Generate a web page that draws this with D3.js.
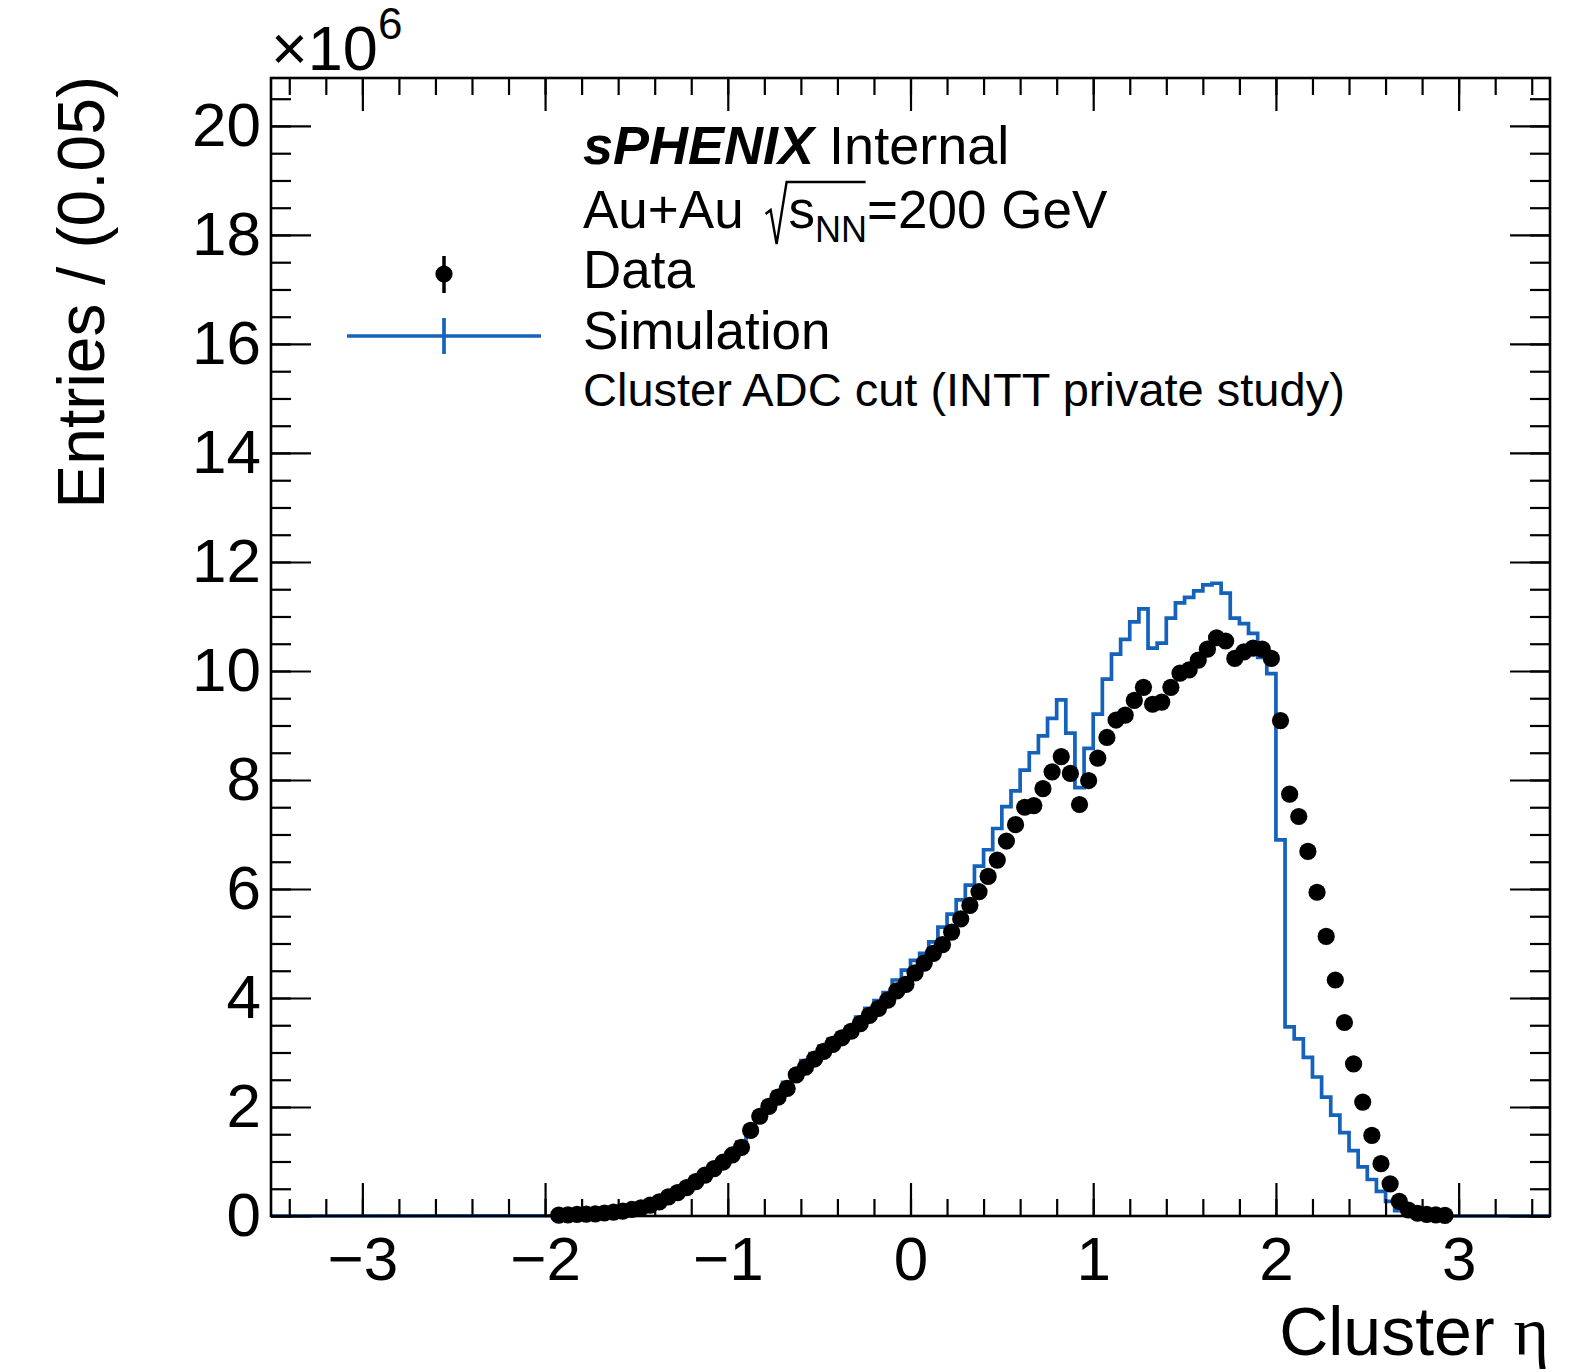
<!DOCTYPE html>
<html>
<head>
<meta charset="utf-8">
<script src="https://cdn.jsdelivr.net/npm/d3@7"></script>
<style>
  html, body { margin: 0; padding: 0; background: #fff; }
  svg { display: block; }
  text { font-family: "Liberation Sans", Arial, Helvetica, sans-serif; fill: #000; }
</style>
</head>
<body>
<svg id="chart" width="1584" height="1372"></svg>
<script>
// Cluster eta distribution, entries per 0.05 bin in units of 1e6
const dataEta = [
  -1.925, -1.875, -1.825, -1.775, -1.725, -1.675, -1.625, -1.575, -1.525, -1.475,
  -1.425, -1.375, -1.325, -1.275, -1.225, -1.175, -1.125, -1.075, -1.025, -0.975,
  -0.925, -0.875, -0.825, -0.775, -0.725, -0.675, -0.625, -0.575, -0.525, -0.475,
  -0.425, -0.375, -0.325, -0.275, -0.225, -0.175, -0.125, -0.075, -0.025, 0.025,
  0.075, 0.125, 0.175, 0.225, 0.275, 0.325, 0.375, 0.425, 0.475, 0.525,
  0.575, 0.625, 0.675, 0.725, 0.775, 0.825, 0.875, 0.925, 0.975, 1.025,
  1.075, 1.125, 1.175, 1.225, 1.275, 1.325, 1.375, 1.425, 1.475, 1.525,
  1.575, 1.625, 1.675, 1.725, 1.775, 1.825, 1.875, 1.925, 1.975, 2.025,
  2.075, 2.125, 2.175, 2.225, 2.275, 2.325, 2.375, 2.425, 2.475, 2.525,
  2.575, 2.625, 2.675, 2.725, 2.775, 2.825, 2.875, 2.925
];
const dataCounts = [
  0.015, 0.02, 0.03, 0.035, 0.04, 0.055, 0.07, 0.09, 0.12, 0.15,
  0.20, 0.26, 0.35, 0.43, 0.52, 0.63, 0.75, 0.87, 0.99, 1.12,
  1.26, 1.57, 1.83, 2.01, 2.18, 2.34, 2.59, 2.73, 2.88, 3.02,
  3.15, 3.27, 3.39, 3.53, 3.68, 3.81, 3.96, 4.13, 4.25, 4.46,
  4.64, 4.82, 4.98, 5.21, 5.45, 5.70, 5.95, 6.23, 6.53, 6.88,
  7.18, 7.50, 7.53, 7.84, 8.15, 8.43, 8.12, 7.55, 7.99, 8.40,
  8.78, 9.10, 9.19, 9.46, 9.70, 9.39, 9.43, 9.70, 9.96, 10.02,
  10.20, 10.40, 10.61, 10.55, 10.23, 10.35, 10.42, 10.40, 10.23, 9.09,
  7.74, 7.33, 6.69, 5.94, 5.13, 4.33, 3.55, 2.79, 2.09, 1.48,
  0.96, 0.59, 0.27, 0.11, 0.05, 0.03, 0.02, 0.01
];

// Simulation histogram, bin centres and contents (1e6); empty bins elsewhere
const simEta = [
  -1.975, -1.925, -1.875, -1.825, -1.775, -1.725, -1.675, -1.625, -1.575, -1.525,
  -1.475, -1.425, -1.375, -1.325, -1.275, -1.225, -1.175, -1.125, -1.075, -1.025,
  -0.975, -0.925, -0.875, -0.825, -0.775, -0.725, -0.675, -0.625, -0.575, -0.525,
  -0.475, -0.425, -0.375, -0.325, -0.275, -0.225, -0.175, -0.125, -0.075, -0.025,
  0.025, 0.075, 0.125, 0.175, 0.225, 0.275, 0.325, 0.375, 0.425, 0.475,
  0.525, 0.575, 0.625, 0.675, 0.725, 0.775, 0.825, 0.875, 0.925, 0.975,
  1.025, 1.075, 1.125, 1.175, 1.225, 1.275, 1.325, 1.375, 1.425, 1.475,
  1.525, 1.575, 1.625, 1.675, 1.725, 1.775, 1.825, 1.875, 1.925, 1.975,
  2.025, 2.075, 2.125, 2.175, 2.225, 2.275, 2.325, 2.375, 2.425, 2.475,
  2.525, 2.575, 2.625, 2.675, 2.725
];
const simCounts = [
  0.005, 0.015, 0.02, 0.025, 0.035, 0.04, 0.05, 0.07, 0.09, 0.12,
  0.16, 0.21, 0.27, 0.35, 0.44, 0.54, 0.65, 0.77, 0.89, 1.01,
  1.15, 1.36, 1.62, 1.88, 2.10, 2.28, 2.45, 2.66, 2.85, 2.98,
  3.12, 3.25, 3.36, 3.47, 3.65, 3.81, 3.95, 4.10, 4.33, 4.51,
  4.69, 4.82, 5.03, 5.30, 5.54, 5.80, 6.07, 6.42, 6.72, 7.11,
  7.51, 7.80, 8.18, 8.50, 8.81, 9.13, 9.47, 8.86, 7.86, 8.58,
  9.21, 9.85, 10.31, 10.58, 10.90, 11.14, 10.42, 10.51, 10.97, 11.25,
  11.35, 11.47, 11.58, 11.61, 11.43, 10.97, 10.87, 10.69, 10.25, 9.95,
  6.90, 3.47, 3.25, 2.91, 2.55, 2.18, 1.85, 1.53, 1.20, 0.90,
  0.67, 0.45, 0.27, 0.10, 0.02
];

const binWidth = 0.05;
const xTickValues = [-3, -2, -1, 0, 1, 2, 3];
const xTickLabels = ["\u22123", "\u22122", "\u22121", "0", "1", "2", "3"];
const yTickValues = [0, 2, 4, 6, 8, 10, 12, 14, 16, 18, 20];
const yTickLabels = ["0", "2", "4", "6", "8", "10", "12", "14", "16", "18", "20"];

const simColor = "#1562ba";

// Frame geometry
const frame = { left: 271, right: 1550, top: 78, bottom: 1216 };
const xDomain = [-3.5, 3.5];
const yDomain = [0, 20.88];

const svg = d3.select("#chart");
const x = d3.scaleLinear().domain(xDomain).range([frame.left, frame.right]);
const y = d3.scaleLinear().domain(yDomain).range([frame.bottom, frame.top]);

// Simulation drawn as a step histogram along the full axis range
const simPts = [[xDomain[0], 0]];
simEta.forEach((c, i) => {
  simPts.push([c - binWidth / 2, simCounts[i]]);
  simPts.push([c + binWidth / 2, simCounts[i]]);
});
simPts.push([simEta[simEta.length - 1] + binWidth / 2, 0]);
simPts.push([xDomain[1], 0]);

const line = d3.line().x(d => x(d[0])).y(d => y(d[1]));
svg.append("path")
  .attr("d", line(simPts))
  .attr("fill", "none")
  .attr("stroke", simColor)
  .attr("stroke-width", 3.7)
  .attr("stroke-linejoin", "miter");

// Axes: ticks point into the frame, mirrored on top and right
const axisStyle = g => {
  g.select(".domain").remove();
  g.selectAll(".tick line").attr("stroke", "#000").attr("stroke-width", 2.2);
};

const xMinor = d3.range(-3.4, 3.41, 0.2).map(v => Math.round(v * 10) / 10);
const yMinor = d3.range(0, 20.51, 0.5);

// bottom
svg.append("g").attr("transform", `translate(0,${frame.bottom})`)
  .call(d3.axisBottom(x).tickValues(xMinor).tickSize(-17).tickFormat(""))
  .call(axisStyle);
const xAx = svg.append("g").attr("transform", `translate(0,${frame.bottom})`)
  .call(d3.axisBottom(x).tickValues(xTickValues).tickSize(-33).tickPadding(20)
    .tickFormat((d, i) => xTickLabels[i]))
  .call(axisStyle);
xAx.selectAll(".tick text")
  .attr("font-size", 62)
  .attr("font-family", "Liberation Sans, Arial, sans-serif")
  .attr("fill", "#000");

// top
svg.append("g").attr("transform", `translate(0,${frame.top})`)
  .call(d3.axisTop(x).tickValues(xMinor).tickSize(-17).tickFormat(""))
  .call(axisStyle);
svg.append("g").attr("transform", `translate(0,${frame.top})`)
  .call(d3.axisTop(x).tickValues(xTickValues).tickSize(-33).tickFormat(""))
  .call(axisStyle);

// left
svg.append("g").attr("transform", `translate(${frame.left},0)`)
  .call(d3.axisLeft(y).tickValues(yMinor).tickSize(-20).tickFormat(""))
  .call(axisStyle);
const yAx = svg.append("g").attr("transform", `translate(${frame.left},0)`)
  .call(d3.axisLeft(y).tickValues(yTickValues).tickSize(-40).tickPadding(10)
    .tickFormat((d, i) => yTickLabels[i]))
  .call(axisStyle);
yAx.selectAll(".tick text")
  .attr("font-size", 62)
  .attr("font-family", "Liberation Sans, Arial, sans-serif")
  .attr("fill", "#000");

// right
svg.append("g").attr("transform", `translate(${frame.right},0)`)
  .call(d3.axisRight(y).tickValues(yMinor).tickSize(-20).tickFormat(""))
  .call(axisStyle);
svg.append("g").attr("transform", `translate(${frame.right},0)`)
  .call(d3.axisRight(y).tickValues(yTickValues).tickSize(-40).tickFormat(""))
  .call(axisStyle);

// frame
svg.append("rect")
  .attr("x", frame.left).attr("y", frame.top)
  .attr("width", frame.right - frame.left).attr("height", frame.bottom - frame.top)
  .attr("fill", "none").attr("stroke", "#000").attr("stroke-width", 2.6);

// Data points
svg.append("g").selectAll("circle")
  .data(dataEta.map((e, i) => [e, dataCounts[i]]))
  .join("circle")
  .attr("cx", d => x(d[0]))
  .attr("cy", d => y(d[1]))
  .attr("r", 8.6)
  .attr("fill", "#000");

// Exponent label
const expo = svg.append("text").attr("x", 271).attr("y", 70).attr("font-size", 63);
expo.append("tspan").text("\u00d710");
expo.append("tspan").attr("font-size", 44).attr("dy", -31).text("6");

// Axis titles
svg.append("text")
  .attr("x", 1549).attr("y", 1355)
  .attr("text-anchor", "end")
  .attr("font-size", 68)
  .call(t => {
    t.append("tspan").text("Cluster ");
    t.append("tspan").attr("font-family", "Liberation Serif, DejaVu Serif, serif").text("\u03b7");
  });

svg.append("text")
  .attr("transform", "translate(104,76) rotate(-90)")
  .attr("text-anchor", "end")
  .attr("font-size", 66)
  .text("Entries / (0.05)");

// Labels and legend
const tx = 583;
const l1 = svg.append("text").attr("x", tx).attr("y", 164).attr("font-size", 54);
l1.append("tspan").attr("font-weight", "bold").attr("font-style", "italic").text("sPHENIX");
l1.append("tspan").text(" Internal");

const l2a = svg.append("text").attr("x", tx).attr("y", 228).attr("font-size", 53).text("Au+Au");
const wAu = l2a.node().getComputedTextLength();
const rx = tx + wAu + 22; // radical start
svg.append("path")
  .attr("d", `M${rx},${214} L${rx + 5},${210} L${rx + 11},${244} L${rx + 21},${182} L${rx + 100},${182}`)
  .attr("fill", "none").attr("stroke", "#000").attr("stroke-width", 2.4)
  .attr("stroke-linejoin", "miter");
const l2b = svg.append("text").attr("x", rx + 23).attr("y", 228).attr("font-size", 53);
l2b.append("tspan").text("s");
l2b.append("tspan").attr("font-size", 36).attr("dy", 14).text("NN");
const sub = l2b.node().getComputedTextLength();
svg.append("text").attr("x", rx + 23 + sub).attr("y", 228).attr("font-size", 53).text("=200 GeV");

svg.append("text").attr("x", tx).attr("y", 288).attr("font-size", 53).text("Data");
svg.append("text").attr("x", tx).attr("y", 349).attr("font-size", 53).text("Simulation");
svg.append("text").attr("x", tx).attr("y", 406).attr("font-size", 47).text("Cluster ADC cut (INTT private study)");

// Legend markers
const legX = 444;
svg.append("line").attr("x1", legX).attr("x2", legX).attr("y1", 256).attr("y2", 293)
  .attr("stroke", "#000").attr("stroke-width", 3.5);
svg.append("circle").attr("cx", legX).attr("cy", 274).attr("r", 8.6).attr("fill", "#000");

svg.append("line").attr("x1", 347).attr("x2", 541).attr("y1", 336).attr("y2", 336)
  .attr("stroke", simColor).attr("stroke-width", 3.7);
svg.append("line").attr("x1", legX).attr("x2", legX).attr("y1", 318).attr("y2", 354)
  .attr("stroke", simColor).attr("stroke-width", 3.7);
</script>
</body>
</html>
